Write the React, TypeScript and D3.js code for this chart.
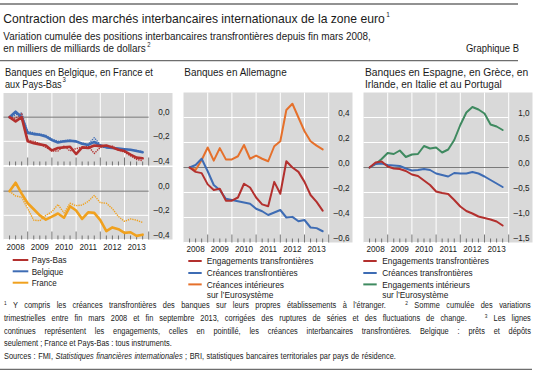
import React, { useLayoutEffect, useRef, useState } from "react";
import * as d3 from "d3";

// ---------- data ----------
const quarters = [
  "2008T1", "2008T2", "2008T3", "2008T4",
  "2009T1", "2009T2", "2009T3", "2009T4",
  "2010T1", "2010T2", "2010T3", "2010T4",
  "2011T1", "2011T2", "2011T3", "2011T4",
  "2012T1", "2012T2", "2012T3", "2012T4",
  "2013T1", "2013T2", "2013T3",
];
const years = ["2008", "2009", "2010", "2011", "2012", "2013"];

// Panel 1 (Belgique, France, Pays-Bas) — solid = engagements, dotted = créances
const paysBasEngagements = [0, -0.035, 0.0, -0.2, -0.215, -0.225, -0.235, -0.275, -0.255, -0.25, -0.245, -0.305, -0.25, -0.255, -0.235, -0.24, -0.235, -0.25, -0.27, -0.28, -0.31, -0.335, -0.34];
const paysBasCreances = [0, -0.01, 0.03, -0.19, -0.2, -0.22, -0.25, -0.28, -0.28, -0.24, -0.28, -0.26, -0.25, -0.24, -0.3, -0.25, -0.25, -0.24, -0.27, -0.29, -0.32, -0.35, -0.36];
const belgiqueEngagements = [0, 0.045, 0.0, -0.13, -0.14, -0.145, -0.16, -0.19, -0.21, -0.2, -0.195, -0.2, -0.22, -0.23, -0.205, -0.235, -0.25, -0.255, -0.26, -0.265, -0.27, -0.28, -0.29];
const belgiqueCreances = [0, 0.02, 0.035, -0.12, -0.13, -0.14, -0.15, -0.18, -0.2, -0.195, -0.19, -0.205, -0.215, -0.225, -0.17, -0.23, -0.245, -0.25, -0.26, -0.265, -0.27, -0.275, -0.285];
const franceEngagements = [0, 0.07, -0.02, -0.1, -0.15, -0.2, -0.235, -0.21, -0.185, -0.22, -0.125, -0.16, -0.23, -0.175, -0.18, -0.24, -0.33, -0.3, -0.315, -0.345, -0.34, -0.37, -0.36];
const franceCreances = [0, -0.04, -0.05, -0.145, -0.24, -0.245, -0.2, -0.17, -0.11, -0.18, -0.1, -0.12, -0.115, -0.085, -0.035, -0.095, -0.1, -0.145, -0.21, -0.25, -0.23, -0.24, -0.26];

// Panel 2 (Allemagne)
const deEngagements = [0, -0.035, -0.045, -0.135, -0.18, -0.17, -0.265, -0.265, -0.24, -0.13, -0.16, -0.24, -0.295, -0.31, -0.115, -0.21, 0.05, 0.0, -0.035, -0.115, -0.22, -0.275, -0.345];
const deCreances = [0, 0.02, 0.07, -0.03, -0.14, -0.18, -0.25, -0.26, -0.27, -0.28, -0.29, -0.33, -0.35, -0.38, -0.36, -0.34, -0.4, -0.395, -0.43, -0.42, -0.48, -0.485, -0.51];
const deCreancesEurosysteme = [0, -0.02, 0.06, 0.16, 0.055, 0.155, 0.065, 0.065, 0.09, 0.18, 0.07, 0.095, 0.07, 0.05, 0.17, 0.21, 0.46, 0.51, 0.4, 0.29, 0.21, 0.175, 0.145];

// Panel 3 (Espagne, Grèce, Irlande, Italie, Portugal)
const periEngagements = [0, 0.1, 0.12, 0.02, -0.02, -0.03, -0.07, -0.14, -0.17, -0.26, -0.35, -0.48, -0.51, -0.53, -0.65, -0.78, -0.87, -0.92, -0.98, -1.01, -1.04, -1.08, -1.16];
const periCreances = [0, 0.07, 0.08, 0.05, 0.04, 0.03, -0.02, -0.06, -0.05, -0.03, -0.05, -0.12, -0.15, -0.18, -0.11, -0.12, -0.12, -0.09, -0.12, -0.18, -0.25, -0.32, -0.39];
const periEngagementsEurosysteme = [0, 0.07, 0.17, 0.29, 0.27, 0.34, 0.21, 0.26, 0.27, 0.43, 0.38, 0.4, 0.3, 0.36, 0.55, 0.85, 1.1, 1.21, 1.16, 1.08, 0.86, 0.82, 0.75];

const ticksP1 = [0, -0.2, -0.4];
const ticksP2 = [0.4, 0.2, 0, -0.2, -0.4, -0.6];
const ticksP3 = [1.0, 0.5, 0, -0.5, -1.0, -1.5];

// ---------- style ----------
const FONT = "'Liberation Sans', Arial, sans-serif";
const RED = "#b3302e";
const BLUE = "#3e6cb4";
const ORANGE = "#e5702b";
const GOLD = "#f0a11e";
const GREEN = "#3f8a60";
const BG = "#d9d9d9";
const TEXT = "#1a1a1a";
const SX = 0.86;

const PLOT_W = 145.2;
const GRAY_W = 169;

const frLocale = d3.formatLocale({ decimal: ",", thousands: " ", grouping: [3], currency: ["", ""], minus: "\u2013" });
const fmt = frLocale.format(".1f");

const qYear = (q: string) => +q.slice(0, 4) + +q.slice(5) / 4;

function T(props: { x: number; y: number; size: number; anchor?: string; sx?: number; len?: number; italic?: boolean; children: React.ReactNode }) {
  const { x, y, size, anchor, sx, len, italic, children } = props;
  if (len) {
    return (
      <text x={x} y={y} fontSize={size} fill={TEXT} textAnchor={anchor} textLength={len}
        lengthAdjust="spacingAndGlyphs" fontStyle={italic ? "italic" : undefined}>{children}</text>
    );
  }
  return (
    <text transform={`translate(${x},${y}) scale(${sx ?? SX},1)`} fontSize={size} fill={TEXT}
      textAnchor={anchor} fontStyle={italic ? "italic" : undefined}>{children}</text>
  );
}

type Series = { values: number[]; color: string; width: number; dash?: string };

function Plot(props: {
  x0: number; top: number; bottom: number; domain: [number, number];
  ticks: number[]; series: Series[]; showYears: boolean; yearY?: number;
}) {
  const { x0, top, bottom, domain, ticks, series, showYears, yearY } = props;
  const x = d3.scaleLinear().domain([2008, 2014]).range([x0, x0 + PLOT_W]);
  const y = d3.scaleLinear().domain(domain).range([bottom, top]);
  const line = d3.line<number>().x((_, i) => x(qYear(quarters[i]))).y((d) => y(d));
  const bounds = d3.range(1, 25).map((k) => 2008 + k / 4);
  return (
    <g>
      <rect x={x0} y={top} width={GRAY_W} height={bottom - top} fill={BG} />
      {d3.range(2009, 2015).map((yr) => (
        <line key={"v" + yr} x1={x(yr)} x2={x(yr)} y1={top} y2={bottom} stroke="#fff" strokeWidth={1} />
      ))}
      {ticks.filter((t) => t !== 0).map((t) => (
        <line key={"h" + t} x1={x0} x2={x(2014)} y1={y(t)} y2={y(t)} stroke="#fff" strokeWidth={1} />
      ))}
      <line x1={x0} x2={x(2014)} y1={y(0)} y2={y(0)} stroke="#7a7a7a" strokeWidth={1} />
      {bounds.map((b, k) => {
        const major = (k + 1) % 4 === 0;
        return (
          <line key={"t" + k} x1={x(b)} x2={x(b)} y1={bottom} y2={bottom - (major ? 8 : 4)} stroke="#555" strokeWidth={0.8} />
        );
      })}
      {series.map((s, i) => (
        <path key={"s" + i} d={line(s.values) || ""} fill="none" stroke={s.color} strokeWidth={s.width}
          strokeDasharray={s.dash} strokeLinejoin="round" strokeLinecap={s.dash ? "butt" : "round"} />
      ))}
      {ticks.map((t) => (
        <T key={"l" + t} x={x0 + GRAY_W - 3} y={y(t) - 2} size={9.5} anchor="end">{fmt(t)}</T>
      ))}
      {showYears && years.map((yr) => (
        <T key={"y" + yr} x={x(+yr + 0.5)} y={yearY as number} size={9.5} anchor="middle">{yr}</T>
      ))}
    </g>
  );
}

function Legend(props: { y: number[]; items: { label: string[]; len: number[]; color: string }[]; sx1: number; sx2: number; tx: number }) {
  const { y, items, sx1, sx2, tx } = props;
  let row = 0;
  return (
    <g>
      {items.map((it, i) => {
        const r = row;
        row += it.label.length;
        return (
          <g key={i}>
            <line x1={sx1} x2={sx2} y1={y[r] - 3.3} y2={y[r] - 3.3} stroke={it.color} strokeWidth={2} />
            {it.label.map((l, j) => (
              <T key={j} x={tx} y={y[r + j]} size={9.5} len={it.len[j]}>{l}</T>
            ))}
          </g>
        );
      })}
    </g>
  );
}

// ---------- footnotes (justified) ----------
type Part = { t: string; sup?: boolean; it?: boolean };
type FLine = { y: number; parts: Part[]; width: number };
const FOOT: FLine[] = [
  { y: 308.3, width: 526.7, parts: [
    { t: "1", sup: true },
    { t: " Y compris les créances transfrontières des banques sur leurs propres établissements à l\u2019étranger.\u00a0\u00a0 " },
    { t: "2", sup: true },
    { t: " Somme cumulée des variations" },
  ] },
  { y: 321, width: 526.7, parts: [
    { t: "trimestrielles entre fin mars 2008 et fin septembre 2013, corrigées des ruptures de séries et des fluctuations de change.\u00a0\u00a0 " },
    { t: "3", sup: true },
    { t: " Les lignes" },
  ] },
  { y: 333.7, width: 526.7, parts: [
    { t: "continues représentent les engagements, celles en pointillé, les créances interbancaires transfrontières. Belgique\u00a0: prêts et dépôts" },
  ] },
  { y: 346.3, width: 167.7, parts: [
    { t: "seulement\u00a0; France et Pays-Bas\u00a0: tous instruments." },
  ] },
  { y: 359, width: 391.7, parts: [
    { t: "Sources\u00a0: FMI, " },
    { t: "Statistiques financières internationales", it: true },
    { t: "\u00a0; BRI, statistiques bancaires territoriales par pays de résidence." },
  ] },
];

function Footnotes() {
  const refs = useRef<(SVGTextElement | null)[]>([]);
  const [lay, setLay] = useState<{ c: number; ws: number[] } | null>(null);
  useLayoutEffect(() => {
    const w = refs.current.map((el) => (el ? el.getComputedTextLength() : 0));
    if (!w[3]) return;
    const c = FOOT[3].width / w[3];
    const ws = FOOT.map((ln, i) => {
      if (i === 3) return 0;
      const n = ln.parts.map((p) => (p.t.match(/[ \u00a0]/g) || []).length).reduce((a, b) => a + b, 0);
      return (ln.width / c - w[i]) / Math.max(1, n);
    });
    setLay({ c, ws });
  }, []);
  const c = lay ? lay.c : 0.85;
  return (
    <g transform={`scale(${c},1)`} fontSize={9} fill={TEXT}>
      {FOOT.map((ln, i) => {
        return (
          <text key={i} ref={(el) => { refs.current[i] = el; }} x={4 / c} y={ln.y}
            wordSpacing={lay ? lay.ws[i] : 0} style={{ whiteSpace: "pre" }}>
            {ln.parts.map((p, j) => {
              if (p.sup) return <tspan key={j} fontSize={5.8} dy={-3.2}>{p.t}</tspan>;
              const prevSup = j > 0 && ln.parts[j - 1].sup;
              return <tspan key={j} dy={prevSup ? 3.2 : 0} fontStyle={p.it ? "italic" : undefined}>{p.t}</tspan>;
            })}
          </text>
        );
      })}
    </g>
  );
}

export default function App() {
  const X1 = 3.5, X2 = 183.5, X3 = 363.5;
  return (
    <svg width={537} height={384} style={{ position: "fixed", left: 0, top: 0, background: "#fff" }}
      fontFamily={FONT}>
      {/* header */}
      <line x1={0} x2={518} y1={4} y2={4} stroke="#6e6e6e" strokeWidth={1.3} />
      <T x={3.3} y={23.3} size={13.5} len={381.5}>Contraction des marchés interbancaires internationaux de la zone euro</T>
      <T x={386.2} y={16.8} size={7} len={3.6}>1</T>
      <T x={3.3} y={40} size={10} len={367.5}>Variation cumulée des positions interbancaires transfrontières depuis fin mars 2008,</T>
      <T x={3.3} y={51.7} size={10} len={142.4}>en milliers de milliards de dollars</T>
      <T x={147.2} y={47.3} size={6.5} len={3.3}>2</T>
      <T x={519} y={51.7} size={10} anchor="end" len={53}>Graphique B</T>
      <line x1={0} x2={518} y1={60.7} y2={60.7} stroke="#6e6e6e" strokeWidth={1.3} />

      {/* panel titles */}
      <T x={5} y={75.7} size={10.5} len={148}>Banques en Belgique, en France et</T>
      <T x={5} y={87.7} size={10.5} len={56.7}>aux Pays-Bas</T>
      <T x={62.6} y={82.2} size={6.5} len={3.3}>3</T>
      <T x={184.3} y={75.7} size={10.5} len={102.4}>Banques en Allemagne</T>
      <T x={365} y={75.7} size={10.5} len={163.3}>Banques en Espagne, en Grèce, en</T>
      <T x={365} y={87.7} size={10.5} len={136.7}>Irlande, en Italie et au Portugal</T>

      {/* panel 1 */}
      <Plot x0={X1} top={93} bottom={165.5} domain={[-0.4, 0.2]} ticks={ticksP1} showYears={false}
        series={[
          { values: belgiqueCreances, color: BLUE, width: 1.4, dash: "1.3 1" },
          { values: paysBasCreances, color: RED, width: 1.4, dash: "1.3 1" },
          { values: belgiqueEngagements, color: BLUE, width: 2.6 },
          { values: paysBasEngagements, color: RED, width: 2.6 },
        ]} />
      <Plot x0={X1} top={167} bottom={239.5} domain={[-0.4, 0.2]} ticks={ticksP1} showYears={true} yearY={250}
        series={[
          { values: franceCreances, color: GOLD, width: 1.4, dash: "1.3 1" },
          { values: franceEngagements, color: GOLD, width: 2.6 },
        ]} />

      {/* panel 2 */}
      <Plot x0={X2} top={92.5} bottom={242.5} domain={[-0.6, 0.6]} ticks={ticksP2} showYears={true} yearY={252}
        series={[
          { values: deCreancesEurosysteme, color: ORANGE, width: 2 },
          { values: deCreances, color: BLUE, width: 2 },
          { values: deEngagements, color: RED, width: 2 },
        ]} />

      {/* panel 3 */}
      <Plot x0={X3} top={92.5} bottom={242.5} domain={[-1.5, 1.5]} ticks={ticksP3} showYears={true} yearY={252}
        series={[
          { values: periEngagementsEurosysteme, color: GREEN, width: 2 },
          { values: periCreances, color: BLUE, width: 2 },
          { values: periEngagements, color: RED, width: 2 },
        ]} />

      {/* legends */}
      <Legend y={[263.3, 274.6, 286]} sx1={12.7} sx2={28.3} tx={31.7}
        items={[
          { label: ["Pays-Bas"], len: [35], color: RED },
          { label: ["Belgique"], len: [31.7], color: BLUE },
          { label: ["France"], len: [25], color: GOLD },
        ]} />
      <Legend y={[264.3, 276.3, 287.7, 297.7]} sx1={188.3} sx2={201.7} tx={206.7}
        items={[
          { label: ["Engagements transfrontières"], len: [106.7], color: RED },
          { label: ["Créances transfrontières"], len: [91], color: BLUE },
          { label: ["Créances intérieures", "sur l\u2019Eurosystème"], len: [77.3, 66.7], color: ORANGE },
        ]} />
      <Legend y={[264.3, 276.3, 287.7, 297.7]} sx1={363.3} sx2={376.7} tx={382.3}
        items={[
          { label: ["Engagements transfrontières"], len: [106.7], color: RED },
          { label: ["Créances transfrontières"], len: [90.3], color: BLUE },
          { label: ["Engagements intérieurs", "sur l\u2019Eurosystème"], len: [87.7, 66], color: GREEN },
        ]} />

      <Footnotes />
      <line x1={0} x2={532} y1={369.3} y2={369.3} stroke="#6e6e6e" strokeWidth={1.3} />
    </svg>
  );
}
